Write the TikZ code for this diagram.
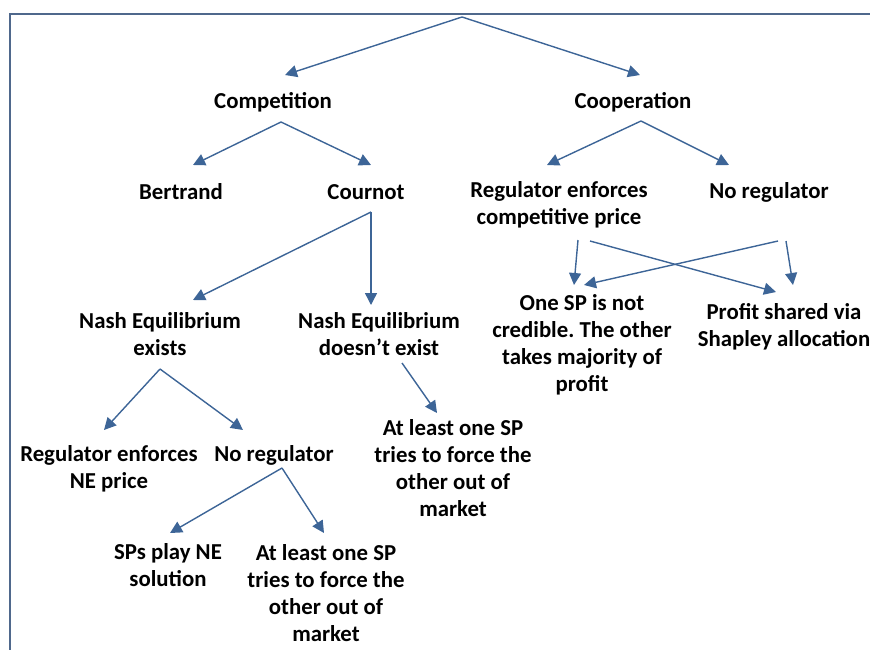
\documentclass[tikz,border=0pt]{standalone}
\usepackage{fontspec}
\setmainfont{Carlito}
\usepackage{tikz}
\usetikzlibrary{positioning,calc,arrows.meta}
\definecolor{arrblue}{RGB}{61,101,151}
\definecolor{framecol}{RGB}{79,104,140}
\frenchspacing
\begin{document}
\begin{tikzpicture}[x=1pt,y=-1pt,>={Triangle[length=12pt,width=12pt]},
  lbl/.style={font=\fontsize{22.8}{27}\selectfont\bfseries, align=center, inner sep=0pt},
  arr/.style={->, draw=arrblue, fill=arrblue, line width=1.4pt}]
  \useasboundingbox (0,0) rectangle (870,650);
  \draw[framecol, line width=2pt] (10,651) |- (871,14);

  \coordinate (root) at (462,17);
  \node [lbl] (cmp) at (273,102) {Competition};
  \node [lbl] (coop) at (633,102) {Cooperation};
  \node [lbl] (ber) at (181,192) {Bertrand};
  \node [lbl] (cou) at (366,192) {Cournot};
  \node [lbl] (reg) at (559,205) {Regulator enforces\\competitive price};
  \node [lbl] (noreg) at (769,192) {No regulator};
  \node [lbl] (nee) at (160,334) {Nash Equilibrium\\exists};
  \node [lbl] (nen) at (379,334) {Nash Equilibrium\\doesn’t exist};
  \node [lbl] (notcred) at (582,345) {One SP is not\\credible. The other\\takes majority of\\profit};
  \node [lbl] (shap) at (784,327) {Profit shared via\\Shapley allocation};
  \node [lbl] (regne) at (109,469) {Regulator enforces\\NE price};
  \node [lbl] (noreg2) at (274,455) {No regulator};
  \node [lbl] (force1) at (453,468) {At least one SP\\tries to force the\\other out of\\market};
  \node [lbl] (spne) at (168,565) {SPs play NE\\solution};
  \node [lbl] (force2) at (326,593) {At least one SP\\tries to force the\\other out of\\market};

  % top levels
  \draw[arr] (root) -- ($(cmp)+(12,-27)$);
  \draw[arr] (root) -- ($(coop)+(7,-27)$);
  \draw[arr] ($(cmp)+(8,20)$) -- ($(ber)+(12,-27)$);
  \draw[arr] ($(cmp)+(8,20)$) -- ($(cou)+(5,-27)$);
  \draw[arr] ($(coop)+(8,19)$) -- ($(reg)+(-12,-40)$);
  \draw[arr] ($(coop)+(8,19)$) -- ($(noreg)+(-40,-27)$);

  % cournot branch
  \draw[arr] ($(cou)+(5,20)$) -- ($(nee)+(33,-34)$);
  \draw[arr] ($(cou)+(5,20)$) -- ($(nen)+(-8,-29)$);
  \draw[arr] ($(nee)+(0,35)$) -- ($(regne)+(-5,-39)$);
  \draw[arr] ($(nee)+(0,35)$) -- ($(noreg2)+(-31,-25)$);
  \draw[arr] ($(nen)+(23,29)$) -- ($(force1)+(-16,-55)$);
  \draw[arr] ($(noreg2)+(8,13)$) -- ($(spne)+(2,-32)$);
  \draw[arr] ($(noreg2)+(8,13)$) -- ($(force2)+(-2,-60)$);

  % cooperation crossing
  \draw[arr] ($(reg)+(19,35)$) -- ($(notcred)+(-8,-60)$);
  \draw[arr] ($(reg)+(31,36)$) -- ($(shap)+(-8,-35)$);
  \draw[arr] ($(noreg)+(9,49)$) -- ($(notcred)+(2,-60)$);
  \draw[arr] ($(noreg)+(17,49)$) -- ($(shap)+(9,-42)$);
\end{tikzpicture}
\end{document}
